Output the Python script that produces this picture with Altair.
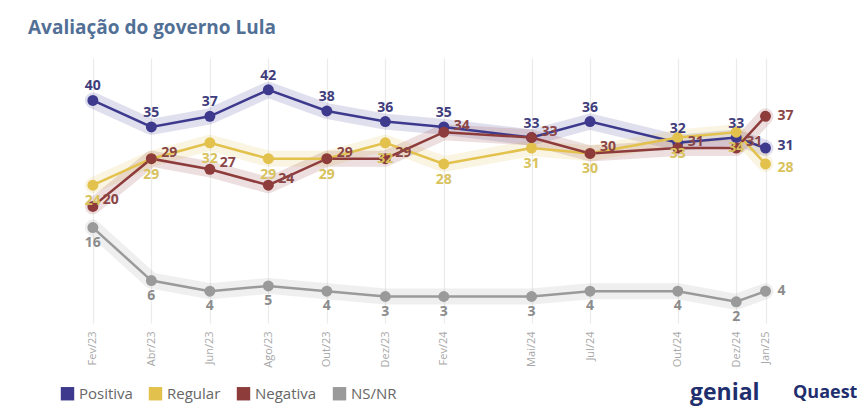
import altair as alt
import pandas as pd

labels = ["Fev/23", "Abr/23", "Jun/23", "Ago/23", "Out/23", "Dez/23",
          "Fev/24", "Mai/24", "Jul/24", "Out/24", "Dez/24", "Jan/25"]
dates = ["2023-02", "2023-04", "2023-06", "2023-08", "2023-10", "2023-12",
         "2024-02", "2024-05", "2024-07", "2024-10", "2024-12", "2025-01"]
positiva = [40, 35, 37, 42, 38, 36, 35, 33, 36, 32, 33, 31]
regular = [24, 29, 32, 29, 29, 32, 28, 31, 30, 33, 34, 28]
negativa = [20, 29, 27, 24, 29, 29, 34, 33, 30, 31, 31, 37]
nsnr = [16, 6, 4, 5, 4, 3, 3, 3, 4, 4, 2, 4]

series = ["Positiva", "Regular", "Negativa", "NS/NR"]
values = [positiva, regular, negativa, nsnr]
colors = ["#3d3a8e", "#e2c14d", "#8e3b3b", "#9a9a9a"]
label_colors = ["#3f3d7c", "#d8c25c", "#8a4646", "#8c8c8c"]

# month index since Fev/23
mi = [(int(d[:4]) - 2023) * 12 + int(d[5:]) - 2 for d in dates]
lookup = dict(zip(mi, labels))
label_expr = "[" + ",".join("'%s'" % lookup.get(i, "") for i in range(mi[-1] + 1)) + "][datum.value]"

rows = []
for s, vals in zip(series, values):
    for m, lab, v in zip(mi, labels, vals):
        rows.append({"s": s, "m": m, "lab": lab, "v": v})
df = pd.DataFrame(rows)

FONT = "Open Sans"

x_enc = alt.X("m:Q",
              scale=alt.Scale(domain=[-1.5, 25], nice=False, zero=False),
              axis=alt.Axis(values=mi, labelExpr=label_expr, labelAngle=270,
                            grid=True, gridColor="#ebebeb", gridWidth=1.2,
                            domain=False, ticks=False, title=None,
                            labelColor="#a8a8a8", labelFontSize=11,
                            labelFont=FONT, labelPadding=8))
y_enc = alt.Y("v:Q", scale=alt.Scale(domain=[-2, 48], nice=False, zero=False), axis=None)
color_scale = alt.Scale(domain=series, range=colors)

base = alt.Chart(df)

halo = base.mark_line(strokeWidth=16, opacity=0.16, strokeCap="round",
                      strokeJoin="round").encode(
    x=x_enc, y=y_enc, color=alt.Color("s:N", scale=color_scale, legend=None),
    detail="s:N")
line = base.mark_line(strokeWidth=2.5).encode(
    x=x_enc, y=y_enc, color=alt.Color("s:N", scale=color_scale, legend=None),
    detail="s:N")
pts = base.mark_circle(size=120, opacity=1).encode(
    x=x_enc, y=y_enc,
    color=alt.Color("s:N", scale=color_scale,
                    sort=series,
                    legend=alt.Legend(orient="none", legendX=11, legendY=328,
                                      direction="horizontal", title=None,
                                      symbolType="square", symbolSize=180,
                                      symbolStrokeWidth=0, symbolOpacity=1,
                                      labelFontSize=15, labelColor="#666666",
                                      labelFont=FONT, columnPadding=15)))

offsets = {"Positiva": (0, -14), "Regular": (0, 16), "Negativa": (18, -6), "NS/NR": (0, 15)}
last_dy = {"Positiva": -2, "Regular": 4, "Negativa": 0, "NS/NR": 0}

layers = [halo, line, pts]
for s, lc in zip(series, label_colors):
    dx, dy = offsets[s]
    layers.append(
        base.transform_filter((alt.datum.s == s) & (alt.datum.m < mi[-1]))
        .mark_text(dx=dx, dy=dy, fontSize=14, fontWeight="bold", font=FONT, color=lc)
        .encode(x=x_enc, y=y_enc, text="v:Q"))
    layers.append(
        base.transform_filter((alt.datum.s == s) & (alt.datum.m == mi[-1]))
        .mark_text(dx=12, dy=last_dy[s], align="left", fontSize=14, fontWeight="bold",
                   font=FONT, color=lc)
        .encode(x=x_enc, y=y_enc, text="v:Q"))

logo1 = alt.Chart(pd.DataFrame({"t": ["genial"]})).mark_text(
    align="left", baseline="alphabetic", fontSize=23, fontWeight="bold",
    font=FONT, color="#1f2f6e").encode(x=alt.value(641), y=alt.value(342), text="t:N")
logo2 = alt.Chart(pd.DataFrame({"t": ["Quaest"]})).mark_text(
    align="left", baseline="alphabetic", fontSize=18, fontWeight="bold",
    font=FONT, color="#1f2f6e").encode(x=alt.value(744), y=alt.value(340), text="t:N")
layers += [logo1, logo2]

chart = alt.layer(*layers).resolve_legend(color="independent").properties(
    width=775, height=265,
    background="white",
    autosize=alt.AutoSizeParams(type="none"),
    padding={"left": 41, "top": 50, "right": 33, "bottom": 84},
    title=alt.TitleParams("Avaliação do governo Lula", anchor="start", frame="group",
                          dx=-21, offset=20, fontSize=19, fontWeight="bold",
                          font=FONT, color="#527096"),
).configure_view(strokeWidth=0, stroke="transparent")

chart.save("out.html", embed_options={"renderer": "svg", "actions": False})
